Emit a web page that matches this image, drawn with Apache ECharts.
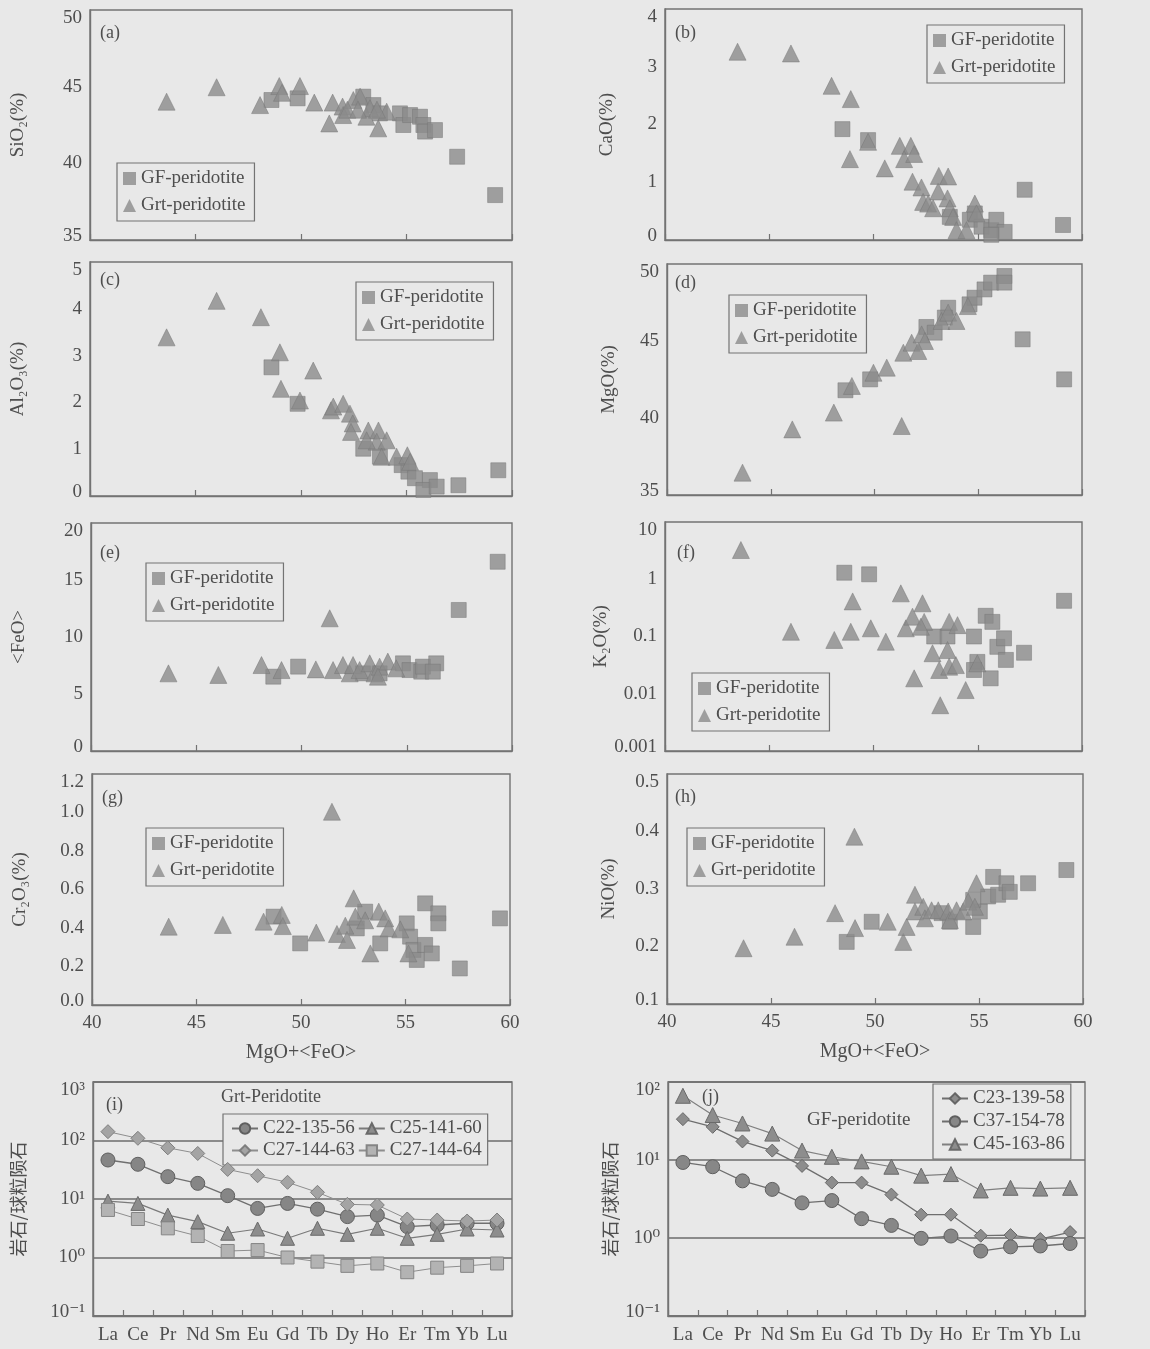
<!DOCTYPE html>
<html><head><meta charset="utf-8">
<script src="https://cdn.jsdelivr.net/npm/echarts@6/dist/echarts.min.js"></script>
<style>html,body{margin:0;padding:0;background:#e8e8e8;}#c{width:1150px;height:1349px;}</style>
</head><body><div id="c"></div>
<script>
// ---------- DATA (x = MgO+<FeO>, y = oxide) ----------
const SIO2_GF = [[48.6,44.13],[49.84,44.24],[52.95,44.35],[53.43,43.8],[53.74,43.26],[54.69,43.26],[54.85,42.5],[55.17,43.15],[55.64,43.04],[55.8,42.5],[55.88,42.07],[56.35,42.17],[57.4,40.43],[59.2,37.93]];
const SIO2_GRT = [[43.63,44.02],[46.0,44.96],[48.06,43.8],[48.97,45.04],[49.1,44.6],[49.95,45.04],[50.63,43.96],[51.5,43.96],[51.34,42.6],[51.97,43.7],[52.0,43.15],[52.48,44.13],[52.2,43.5],[52.8,44.35],[53.1,43.04],[53.27,43.6],[53.66,42.28],[54.06,43.37],[52.7,43.5],[53.6,43.5]];
const CAO_GF = [[48.51,1.92],[49.74,1.73],[53.66,0.40],[54.62,0.35],[54.86,0.46],[55.18,0.23],[55.65,0.17],[55.89,0.35],[56.29,0.14],[55.65,0.09],[57.25,0.87],[59.09,0.26]];
const CAO_GRT = [[43.48,3.26],[46.04,3.23],[47.99,2.67],[48.91,2.44],[48.87,1.40],[49.74,1.70],[51.26,1.63],[51.79,1.63],[51.47,1.40],[51.95,1.49],[50.54,1.24],[51.87,1.01],[52.3,0.91],[52.38,0.66],[52.62,0.63],[52.86,0.55],[53.1,0.84],[53.13,1.11],[53.58,1.10],[53.55,0.72],[53.66,0.55],[53.82,0.40],[53.98,0.17],[54.46,0.17],[54.86,0.63],[54.94,0.46]];
const AL2O3_GF = [[48.6,2.75],[49.84,1.97],[52.95,1.01],[53.74,0.84],[54.77,0.66],[55.09,0.52],[55.4,0.38],[56.11,0.34],[55.8,0.13],[56.43,0.20],[57.46,0.23],[59.35,0.55]];
const AL2O3_GRT = [[43.63,3.39],[46.0,4.17],[48.1,3.82],[49.0,3.07],[49.05,2.29],[50.58,2.68],[49.95,2.04],[51.42,1.83],[51.53,1.91],[52.0,1.97],[52.32,1.76],[52.45,1.55],[52.37,1.37],[53.19,1.40],[53.67,1.40],[53.59,1.16],[54.06,1.19],[53.11,1.19],[53.82,0.84],[54.53,0.84],[55.04,0.87],[55.17,0.73]];
const MGO_GF = [[48.6,41.8],[49.79,42.51],[52.5,45.91],[52.9,45.54],[53.55,47.16],[53.39,46.52],[54.58,47.38],[54.82,47.81],[55.3,48.35],[55.62,48.79],[56.26,49.22],[56.26,48.79],[57.14,45.11],[59.14,42.51]];
const MGO_GRT = [[43.64,36.45],[46.04,39.26],[48.04,40.35],[48.91,42.08],[49.95,42.94],[50.59,43.27],[51.39,44.24],[51.31,39.48],[51.79,44.89],[52.27,45.43],[52.43,45.0],[53.23,46.3],[53.55,46.84],[53.95,46.3],[54.5,47.27],[52.11,44.35]];
const FEO_GF = [[48.66,6.52],[49.84,7.4],[52.92,6.81],[53.71,6.81],[54.82,7.69],[55.13,7.1],[55.69,6.96],[55.77,7.4],[56.4,7.69],[56.24,6.96],[57.47,12.37],[59.32,16.6]];
const FEO_GRT = [[43.68,6.81],[46.05,6.67],[48.1,7.54],[49.05,7.1],[50.68,7.16],[51.34,11.64],[51.5,7.1],[51.97,7.54],[52.29,6.81],[52.45,7.54],[52.76,7.1],[53.24,7.69],[53.47,6.81],[53.71,7.4],[54.1,7.84],[53.63,6.52],[54.5,7.25]];
const K2O_GF = [[48.6,1.30],[49.79,1.22],[52.91,0.1],[53.55,0.1],[54.82,0.1],[54.98,0.036],[54.82,0.026],[55.38,0.23],[55.7,0.18],[55.62,0.0186],[55.94,0.066],[56.26,0.093],[56.35,0.039],[57.22,0.052],[59.14,0.42]];
const K2O_GRT = [[43.64,3.24],[46.04,0.121],[48.12,0.087],[49.0,0.41],[48.91,0.121],[49.87,0.139],[50.59,0.081],[51.31,0.567],[51.55,0.139],[51.87,0.222],[51.95,0.0186],[52.35,0.38],[52.43,0.18],[52.27,0.148],[52.83,0.051],[53.15,0.026],[53.2,0.0063],[53.55,0.058],[53.63,0.18],[53.63,0.0297],[53.95,0.0317],[54.03,0.158],[54.42,0.0116],[54.98,0.034]];
const CR2O3_GF = [[48.69,0.459],[49.96,0.32],[53.07,0.485],[53.79,0.32],[52.67,0.398],[55.06,0.424],[55.22,0.355],[55.38,0.286],[55.54,0.234],[55.94,0.528],[55.94,0.312],[56.26,0.268],[56.57,0.476],[56.57,0.424],[57.6,0.19],[59.52,0.45]];
const CR2O3_GRT = [[43.67,0.407],[46.26,0.416],[48.21,0.433],[49.08,0.468],[49.13,0.41],[50.73,0.376],[51.48,1.004],[51.72,0.369],[52.12,0.412],[52.2,0.338],[52.52,0.554],[52.6,0.459],[53.32,0.268],[53.72,0.485],[54.03,0.45],[54.19,0.398],[54.75,0.393],[55.14,0.268],[53.07,0.44]];
const NIO_GF = [[48.64,0.208],[49.84,0.243],[53.2,0.258],[53.6,0.243],[54.72,0.234],[55.04,0.261],[54.72,0.281],[55.68,0.321],[55.44,0.287],[55.92,0.29],[56.32,0.31],[56.48,0.295],[57.36,0.31],[59.2,0.333]];
const NIO_GRT = [[43.68,0.197],[46.13,0.217],[48.08,0.258],[49.01,0.391],[49.04,0.232],[50.61,0.243],[51.36,0.208],[51.52,0.234],[51.92,0.29],[51.92,0.261],[52.32,0.269],[52.4,0.249],[52.72,0.263],[53.04,0.263],[53.52,0.261],[53.6,0.246],[53.92,0.263],[54.24,0.261],[54.48,0.278],[54.88,0.31],[54.8,0.269]];

// ---------- REE (rock / chondrite) ----------
const REE = ['La','Ce','Pr','Nd','Sm','Eu','Gd','Tb','Dy','Ho','Er','Tm','Yb','Lu'];
const C22_135_56 = [46.4,39.2,24.1,18.5,11.4,6.9,8.4,6.7,5.0,5.3,3.37,3.6,3.84,3.84];
const C25_141_60 = [9.2,8.4,5.3,4.1,2.6,3.07,2.13,3.16,2.49,3.16,2.13,2.49,3.07,2.95];
const C27_144_63 = [141.6,109,75,60,32,25,19.3,13,8.1,7.9,4.55,4.37,4.2,4.37];
const C27_144_64 = [6.5,4.55,3.15,2.33,1.29,1.34,1.0,0.85,0.72,0.79,0.56,0.67,0.72,0.79];
const C23_139_58 = [33.4,26.6,17.3,13.2,8.4,5.13,5.13,3.6,1.99,1.99,1.07,1.09,0.97,1.19];
const C37_154_78 = [9.3,8.2,5.4,4.2,2.82,3.02,1.77,1.45,0.99,1.06,0.68,0.77,0.79,0.85];
const C45_163_86 = [66.6,37.7,29.4,21.8,13.2,11,9.6,8.2,6.3,6.6,4.07,4.4,4.3,4.4];

// ---------- STYLE ----------
const SERIF = '"Liberation Serif","DejaVu Serif",serif';
const CJK = '"Noto Sans CJK SC",sans-serif';
const TXT = '#4e4e4e';
const BOX = '#737373';
const BG = '#e8e8e8';
const MARK = '#8b8b8b';
const MARKB = '#767676';
const FS = 19;

function richFor(fs){
  return {
    t:{fontSize:fs,fontFamily:SERIF,color:TXT,padding:[17,0,0,0]},
    b:{fontSize:fs,fontFamily:SERIF,color:TXT,padding:[0,0,7,0]},
    n:{fontSize:fs,fontFamily:SERIF,color:TXT}
  };
}
function linFmt(min,max,dec){
  return v => {
    const s = v.toFixed(dec);
    if (Math.abs(v-max)<1e-9) return '{t|'+s+'}';
    if (Math.abs(v-min)<1e-9) return '{b|'+s+'}';
    return '{n|'+s+'}';
  };
}
const SUP = {'-1':'⁻¹','0':'⁰','1':'¹','2':'²','3':'³'};
function logFmt(min,max,mode){
  return v => {
    const e = Math.round(Math.log10(v));
    let s;
    if (mode==='pow') s = '10'+SUP[String(e)];
    else s = e>=0 ? String(Math.pow(10,e)) : Math.pow(10,e).toFixed(-e);
    if (Math.abs(Math.log10(v)-Math.log10(max))<1e-6) return '{t|'+s+'}';
    if (Math.abs(Math.log10(v)-Math.log10(min))<1e-6) return '{b|'+s+'}';
    return '{n|'+s+'}';
  };
}

const panels = [
  {tag:'(a)', g:[90,10,422,230], y:{min:35,max:50,interval:5,dec:0}, name:'SiO₂(%)', gf:SIO2_GF, grt:SIO2_GRT, lg:[117,163], tp:[100,33], right:false},
  {tag:'(b)', g:[665,9,417,231], y:{min:0,max:4,interval:1,dec:0}, name:'CaO(%)', gf:CAO_GF, grt:CAO_GRT, lg:[927,25], tp:[675,33], right:true},
  {tag:'(c)', g:[90,262,422,234], y:{min:0,max:5,interval:1,dec:0}, name:'Al₂O₃(%)', gf:AL2O3_GF, grt:AL2O3_GRT, lg:[356,282], tp:[100,280], right:false},
  {tag:'(d)', g:[667,264,415,231], y:{min:35,max:50,interval:5,dec:0}, name:'MgO(%)', gf:MGO_GF, grt:MGO_GRT, lg:[729,295], tp:[675,283], right:true},
  {tag:'(e)', g:[91,523,421,228], y:{min:0,max:20,interval:5,dec:0}, name:'<FeO>', gf:FEO_GF, grt:FEO_GRT, lg:[146,563], tp:[100,553], right:false},
  {tag:'(f)', g:[665,522,417,229], y:{log:true,min:0.001,max:10}, name:'K₂O(%)', gf:K2O_GF, grt:K2O_GRT, lg:[692,673], tp:[677,553], right:true},
  {tag:'(g)', g:[92,774,418,231], y:{min:0,max:1.2,interval:0.2,dec:1}, name:'Cr₂O₃(%)', gf:CR2O3_GF, grt:CR2O3_GRT, lg:[146,828], tp:[102,798], right:false, xl:true},
  {tag:'(h)', g:[667,774,416,230], y:{min:0.1,max:0.5,interval:0.1,dec:1}, name:'NiO(%)', gf:NIO_GF, grt:NIO_GRT, lg:[687,828], tp:[675,797], right:true, xl:true}
];

const grid=[], xAxis=[], yAxis=[], series=[], legend=[], graphic=[];

panels.forEach((p,i)=>{
  grid.push({left:p.g[0],top:p.g[1],width:p.g[2],height:p.g[3],show:true,borderColor:BOX,borderWidth:1.4,backgroundColor:'transparent'});
  xAxis.push({
    gridIndex:i,type:'value',min:40,max:60,interval:5,
    axisLine:{show:true,lineStyle:{color:BOX,width:1.4}},
    axisTick:{show:true,inside:true,length:6,lineStyle:{color:BOX,width:1.2}},
    splitLine:{show:false},
    axisLabel:{show:!!p.xl,fontFamily:SERIF,fontSize:FS,color:TXT,margin:9},
    name:p.xl?'MgO+<FeO>':'',nameLocation:'middle',nameGap:38,
    nameTextStyle:{fontFamily:SERIF,fontSize:20,color:TXT}
  });
  const ya = {
    gridIndex:i,
    axisLine:{show:true,lineStyle:{color:BOX,width:1.4}},
    axisTick:{show:false},
    splitLine:{show:false},
    name:p.name,nameLocation:'middle',nameGap:p.right?48:62,
    nameTextStyle:{fontFamily:SERIF,fontSize:FS,color:TXT}
  };
  if (p.y.log){
    Object.assign(ya,{type:'log',logBase:10,min:p.y.min,max:p.y.max,
      axisLabel:{fontFamily:SERIF,fontSize:FS,color:TXT,margin:8,formatter:logFmt(p.y.min,p.y.max,'dec'),rich:richFor(FS)}});
  } else {
    Object.assign(ya,{type:'value',min:p.y.min,max:p.y.max,interval:p.y.interval,
      axisLabel:{fontFamily:SERIF,fontSize:FS,color:TXT,margin:8,formatter:linFmt(p.y.min,p.y.max,p.y.dec),rich:richFor(FS)}});
  }
  yAxis.push(ya);
  series.push({name:'GF-peridotite',type:'scatter',xAxisIndex:i,yAxisIndex:i,symbol:'rect',symbolSize:15,
    itemStyle:{color:MARK,borderColor:MARKB,borderWidth:0.6},data:p.gf,z:3});
  series.push({name:'Grt-peridotite',type:'scatter',xAxisIndex:i,yAxisIndex:i,symbol:'triangle',symbolSize:17,
    itemStyle:{color:MARK,borderColor:MARKB,borderWidth:0.6},data:p.grt,z:4});
  legend.push({orient:'vertical',left:p.lg[0],top:p.lg[1],selectedMode:false,
    data:[{name:'GF-peridotite',icon:'rect',itemStyle:{borderWidth:0}},{name:'Grt-peridotite',icon:'triangle',itemStyle:{borderWidth:0}}],
    itemWidth:13,itemHeight:13,itemGap:8,padding:[6,9,6,6],
    borderColor:BOX,borderWidth:1.2,backgroundColor:BG,
    textStyle:{fontFamily:SERIF,fontSize:19,color:TXT}});
  graphic.push({type:'text',x:p.tp[0],y:p.tp[1],style:{text:p.tag,font:'18px '+SERIF,fill:TXT,verticalAlign:'middle'},z:10});
});

// REE panels
const reePanels = [
  {g:[93,1082,419,234], min:0.1, max:1000, nameGap:66},
  {g:[668,1082,417,234], min:0.1, max:100, nameGap:49}
];
reePanels.forEach((p,k)=>{
  const i = 8+k;
  grid.push({left:p.g[0],top:p.g[1],width:p.g[2],height:p.g[3],show:true,borderColor:BOX,borderWidth:1.4,backgroundColor:'transparent'});
  xAxis.push({gridIndex:i,type:'category',data:REE,boundaryGap:true,
    axisLine:{show:true,lineStyle:{color:BOX,width:1.4}},
    axisTick:{show:true,inside:true,length:6,lineStyle:{color:BOX,width:1.2}},
    axisLabel:{fontFamily:SERIF,fontSize:FS,color:TXT,margin:10,interval:0}});
  yAxis.push({gridIndex:i,type:'log',logBase:10,min:p.min,max:p.max,
    axisLine:{show:true,lineStyle:{color:BOX,width:1.4}},
    axisTick:{show:false},
    splitLine:{show:true,lineStyle:{color:'#6c6c6c',width:1.5}},
    axisLabel:{fontFamily:SERIF,fontSize:FS,color:TXT,margin:8,formatter:logFmt(p.min,p.max,'pow'),rich:richFor(FS)},
    name:'岩石/球粒陨石',nameLocation:'middle',nameGap:p.nameGap,
    nameTextStyle:{fontFamily:CJK,fontSize:18,color:TXT}});
});

function reeSeries(name,data,idx,symbol,size,fill,border,lineColor,lw){
  return {name,type:'line',xAxisIndex:idx,yAxisIndex:idx,data,symbol,symbolSize:size,
    lineStyle:{color:lineColor,width:lw},
    itemStyle:{color:fill,borderColor:border,borderWidth:1},z:5};
}
series.push(reeSeries('C22-135-56',C22_135_56,8,'circle',14,'#868686','#5f5f5f','#707070',1.4));
series.push(reeSeries('C25-141-60',C25_141_60,8,'triangle',14,'#8d8d8d','#6a6a6a','#7a7a7a',1.2));
series.push(reeSeries('C27-144-63',C27_144_63,8,'diamond',14,'#a4a4a4','#7e7e7e','#8e8e8e',1.0));
series.push(reeSeries('C27-144-64',C27_144_64,8,'rect',13,'#b3b3b3','#858585','#8e8e8e',1.0));
series.push(reeSeries('C23-139-58',C23_139_58,9,'diamond',13,'#8d8d8d','#666666','#6e6e6e',1.3));
series.push(reeSeries('C37-154-78',C37_154_78,9,'circle',14,'#878787','#5f5f5f','#6e6e6e',1.3));
series.push(reeSeries('C45-163-86',C45_163_86,9,'triangle',15,'#8d8d8d','#6a6a6a','#808080',1.2));

legend.push({orient:'horizontal',left:223,top:1114,width:285,selectedMode:false,
  data:['C22-135-56','C25-141-60','C27-144-63','C27-144-64'],
  itemWidth:26,itemHeight:13,itemGap:3,padding:[5,6,5,8],
  borderColor:BOX,borderWidth:1.2,backgroundColor:BG,
  textStyle:{fontFamily:SERIF,fontSize:19,color:TXT,width:107}});
legend.push({orient:'vertical',left:933,top:1084,selectedMode:false,
  data:['C23-139-58','C37-154-78','C45-163-86'],
  itemWidth:26,itemHeight:13,itemGap:4,padding:[5,6,5,8],
  borderColor:BOX,borderWidth:1.2,backgroundColor:BG,
  textStyle:{fontFamily:SERIF,fontSize:19,color:TXT}});

graphic.push({type:'text',x:106,y:1105,style:{text:'(i)',font:'18px '+SERIF,fill:TXT,verticalAlign:'middle'},z:10});
graphic.push({type:'text',x:702,y:1097,style:{text:'(j)',font:'18px '+SERIF,fill:TXT,verticalAlign:'middle'},z:10});
graphic.push({type:'text',x:221,y:1097,style:{text:'Grt-Peridotite',font:'18px '+SERIF,fill:TXT,verticalAlign:'middle'},z:10});
graphic.push({type:'text',x:807,y:1120,style:{text:'GF-peridotite',font:'19px '+SERIF,fill:TXT,verticalAlign:'middle'},z:10});

const chart = echarts.init(document.getElementById('c'),null,{renderer:'canvas'});
chart.setOption({backgroundColor:BG,animation:false,grid,xAxis,yAxis,series,legend,graphic});
</script></body></html>
